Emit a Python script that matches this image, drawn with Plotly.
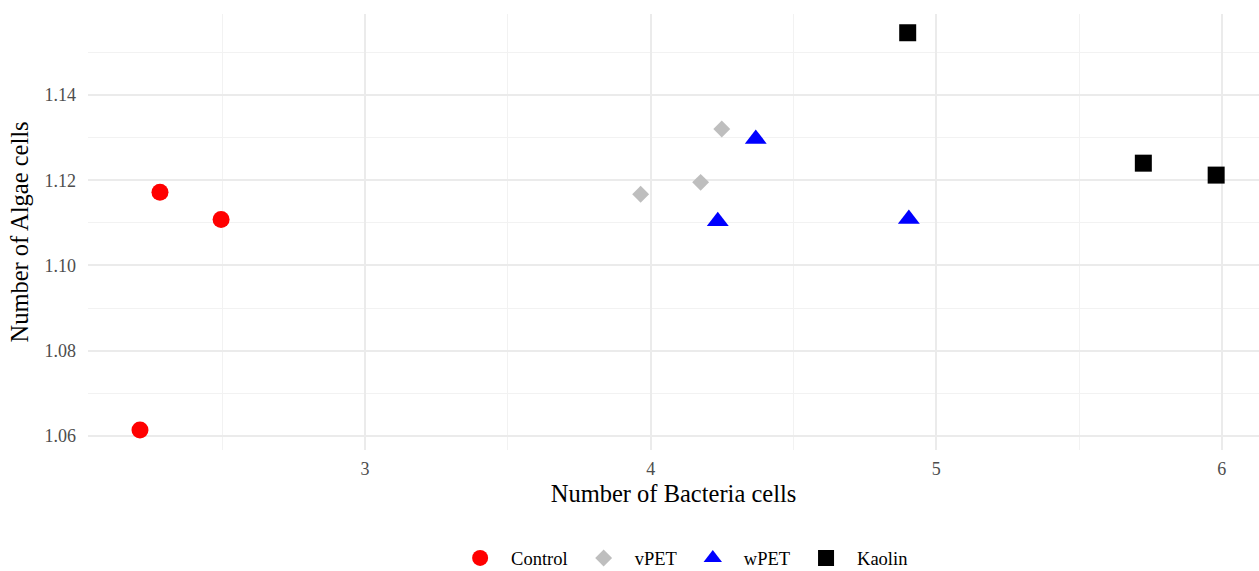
import plotly.graph_objects as go

groups = ["Control", "vPET", "wPET", "Kaolin"]
control_x = [2.212, 2.282, 2.496]
control_y = [1.0614, 1.1172, 1.1108]
vpet_x = [3.965, 4.175, 4.249]
vpet_y = [1.1167, 1.1195, 1.1320]
wpet_x = [4.235, 4.368, 4.904]
wpet_y = [1.1104, 1.1297, 1.1109]
kaolin_x = [4.900, 5.725, 5.980]
kaolin_y = [1.1546, 1.1240, 1.1212]

xs = [control_x, vpet_x, wpet_x, kaolin_x]
ys = [control_y, vpet_y, wpet_y, kaolin_y]
colors = ["#ff0000", "#bebebe", "#0000ff", "#000000"]
symbols = ["circle", "diamond", "triangle-up", "square"]
sizes = [17, 13, 19, 17]

serif = "Liberation Serif, Times New Roman, serif"

fig = go.Figure()
for g, x, y, c, s, sz in zip(groups, xs, ys, colors, symbols, sizes):
    fig.add_trace(go.Scatter(
        x=x, y=y, mode="markers", name=g,
        marker=dict(color=c, symbol=s, size=sz, line=dict(width=0)),
    ))

fig.update_layout(
    width=1259, height=571,
    margin=dict(l=88, r=0, t=14, b=121),
    paper_bgcolor="white", plot_bgcolor="white",
    font=dict(family=serif, color="#000000"),
    showlegend=True,
    legend=dict(
        orientation="h", xref="container", yref="container",
        x=0.541, xanchor="center", y=0.022, yanchor="middle",
        font=dict(size=18.5, family=serif, color="#000000"),
        itemsizing="trace", itemwidth=52,
    ),
    xaxis=dict(
        range=[2.03, 6.13],
        tickvals=[3, 4, 5, 6], ticktext=["3", "4", "5", "6"],
        showgrid=True, gridcolor="#ebebeb", gridwidth=2,
        minor=dict(tickvals=[2.5, 3.5, 4.5, 5.5], showgrid=True, gridcolor="#f2f2f2", gridwidth=1),
        zeroline=False, showline=False, ticks="",
        ticklabelstandoff=6,
        tickfont=dict(size=18, color="#4d4d4d", family=serif),
        title=dict(text="Number of Bacteria cells", font=dict(size=24.5, color="#000000", family=serif), standoff=6),
    ),
    yaxis=dict(
        range=[1.0567, 1.159],
        tickvals=[1.06, 1.08, 1.10, 1.12, 1.14],
        ticktext=["1.06", "1.08", "1.10", "1.12", "1.14"],
        showgrid=True, gridcolor="#ebebeb", gridwidth=2,
        minor=dict(tickvals=[1.07, 1.09, 1.11, 1.13, 1.15], showgrid=True, gridcolor="#f2f2f2", gridwidth=1),
        zeroline=False, showline=False, ticks="",
        ticklabelstandoff=11,
        tickfont=dict(size=18, color="#4d4d4d", family=serif),
        title=dict(text="Number of Algae cells", font=dict(size=24.5, color="#000000", family=serif), standoff=8),
    ),
)

fig.write_html("out.html")
